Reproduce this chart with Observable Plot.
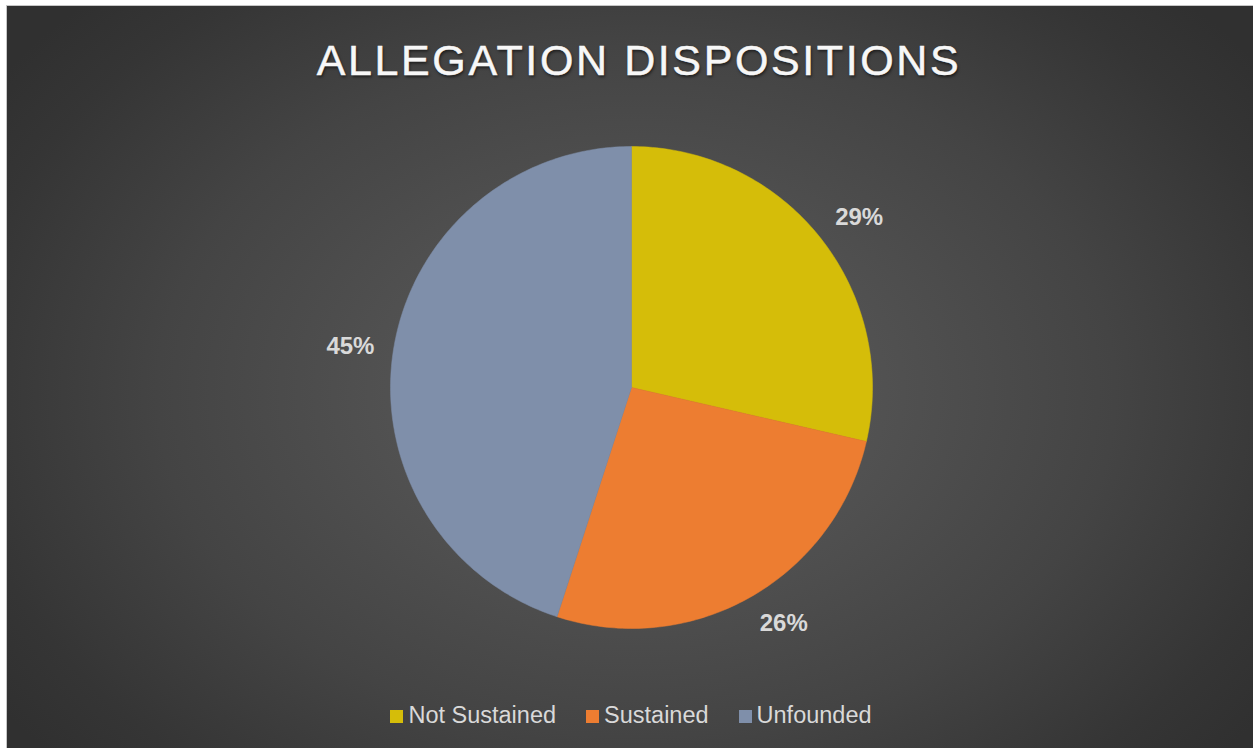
<!DOCTYPE html>
<html>
<head>
<meta charset="utf-8">
<script src="https://cdn.jsdelivr.net/npm/d3@7"></script>
<script src="https://cdn.jsdelivr.net/npm/@observablehq/plot@0.6"></script>
<style>
  html, body { margin: 0; padding: 0; background: #ffffff; width: 1253px; height: 748px; overflow: hidden; }
  #panel {
    position: absolute; left: 6px; top: 5px; width: 1247px; height: 743px;
    box-sizing: border-box;
    border-top: 1px solid #c6c6c6; border-left: 1px solid #c6c6c6;
    background: radial-gradient(ellipse 62% 75% at 50.5% 52%, #5a5a5a 0%, #525252 30%, #444444 62%, #353535 88%, #303030 100%);
    font-family: "Liberation Sans", Arial, sans-serif;
  }
  #title {
    position: absolute; left: 0; width: 1278px; top: 36px; text-align: center;
    font-size: 43px; letter-spacing: 2.6px; color: #f7f7f7;
    -webkit-text-stroke: 0.5px #f7f7f7;
    text-shadow: 1px 2px 3px rgba(0,0,0,0.6);
    font-family: "Liberation Sans", Arial, sans-serif;
  }
  #chart { position: absolute; left: 281px; top: 87px; }
  #legend {
    position: absolute; left: 0; width: 1262px; top: 702px;
    display: flex; justify-content: center; gap: 30px;
    font-size: 23.5px; color: #d9d9d9; font-family: "Liberation Sans", Arial, sans-serif;
  }
  #legend .item { display: flex; align-items: center; }
  #legend .sw { width: 13px; height: 13px; margin-right: 5px; margin-top: 2px; }
</style>
</head>
<body>
<div id="panel"></div>
<div id="title">ALLEGATION DISPOSITIONS</div>
<div id="chart"></div>
<div id="legend"></div>
<script>
const categories = ["Not Sustained", "Sustained", "Unfounded"];
const shares = [28.6, 26.4, 45.0];
const colors = ["#d5bd09", "#ed7d31", "#7f8faa"];

const W = 700, H = 600, R = 241, LABEL_R = 1.08;

const pie = d3.pie().sort(null).value((d, i) => shares[i])(categories);
const total = d3.sum(shares);

// polygon points for each slice, in unit-circle coordinates
const slicePoints = [];
pie.forEach(p => {
  const name = categories[p.index];
  slicePoints.push({name, x: 0, y: 0});
  const n = Math.max(8, Math.ceil((p.endAngle - p.startAngle) / (Math.PI / 180)));
  for (let k = 0; k <= n; k++) {
    const a = p.startAngle + (p.endAngle - p.startAngle) * k / n;
    slicePoints.push({name, x: Math.sin(a), y: Math.cos(a)});
  }
  slicePoints.push({name, x: 0, y: 0});
});

// outside-end labels: anchored by their nearest corner to a point just outside the arc
const labelData = pie.map(p => {
  const a = (p.startAngle + p.endAngle) / 2;
  const s = Math.sin(a), c = Math.cos(a);
  return {
    name: categories[p.index],
    x: s * LABEL_R,
    y: c * LABEL_R,
    text: Math.round(shares[p.index] / total * 100) + "%",
    anchor: s >= 0 ? "start" : "end",
    line: Math.abs(c) < 0.3 ? "middle" : (c > 0 ? "bottom" : "top")
  };
});

const chart = Plot.plot({
  width: W, height: H,
  margin: 0,
  style: {background: "transparent", overflow: "visible"},
  x: {domain: [-W / 2 / R, W / 2 / R], axis: null},
  y: {domain: [-H / 2 / R, H / 2 / R], axis: null},
  color: {domain: categories, range: colors},
  marks: [
    Plot.line(slicePoints, {x: "x", y: "y", z: "name", fill: "name", stroke: "name", strokeWidth: 0.5, curve: "linear"}),
    ...labelData.map(d => Plot.text([d], {x: "x", y: "y", text: "text", fill: "#d9d9d9", fontSize: 24, fontWeight: "bold",
      textAnchor: d.anchor, lineAnchor: d.line,
      fontFamily: "Liberation Sans, Arial, sans-serif"}))
  ]
});
document.getElementById("chart").appendChild(chart);

const legend = document.getElementById("legend");
categories.forEach((c, i) => {
  const item = document.createElement("div");
  item.className = "item";
  const sw = document.createElement("span");
  sw.className = "sw";
  sw.style.background = colors[i];
  const t = document.createElement("span");
  t.textContent = c;
  item.appendChild(sw); item.appendChild(t);
  legend.appendChild(item);
});
</script>
</body>
</html>
